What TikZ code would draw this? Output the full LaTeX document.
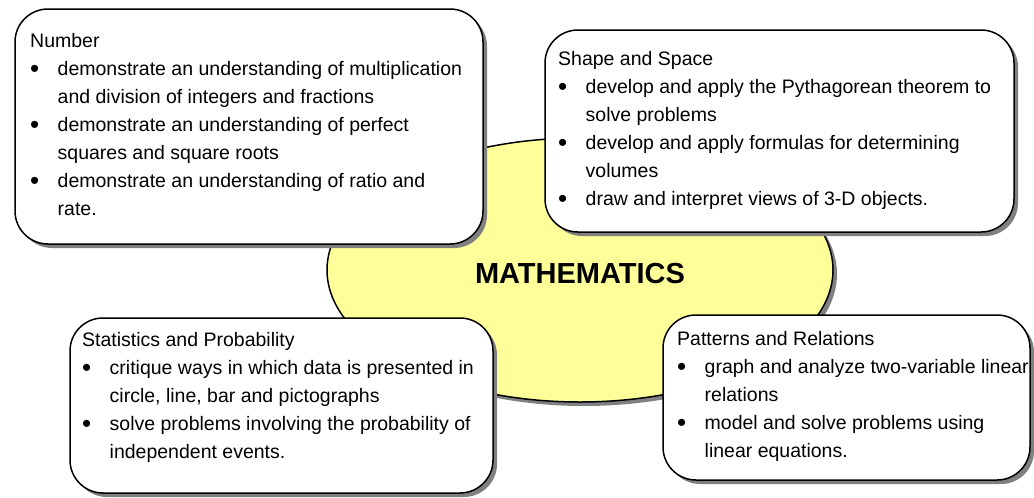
\documentclass[tikz,border=0pt]{standalone}
\usepackage{fontspec}
\setmainfont{Liberation Sans}
\definecolor{ellfill}{HTML}{FFFF99}
\definecolor{shadowgray}{HTML}{808080}
\newcommand{\myDot}{\raisebox{-2.2pt}{\fontsize{26}{26}\selectfont\textbullet}}
\newcommand{\myBull}[1]{\hbox{\makebox[27.5pt][l]{\myDot}#1}}
\newcommand{\myCont}[1]{\hbox{\hspace*{27.5pt}#1}}
\newcommand{\myTitle}[1]{\hbox{#1}}
\tikzset{
  boxline/.style={draw=black, line width=1.5pt, fill=white, rounded corners=33pt},
  boxshadow/.style={fill=shadowgray, rounded corners=33pt},
  boxtext/.style={anchor=base west, inner sep=0pt, font=\fontsize{19.5}{28}\selectfont},
  titletext/.style={anchor=base, inner sep=0pt, font=\fontsize{29}{34}\selectfont\bfseries}
}
\begin{document}
\begin{tikzpicture}[x=1pt, y=-1pt]
\useasboundingbox (0,0) rectangle (1034,498);
% central ellipse
\fill[shadowgray] (584,274) ellipse [x radius=253pt, y radius=132pt];
\draw[fill=ellfill, line width=1.5pt] (580,270) ellipse [x radius=253pt, y radius=132pt];
\node[titletext] (math) at (580,283) {MATHEMATICS};
% Number box
\fill[boxshadow] (19,13) rectangle (487,248);
\draw[boxline] (15,9) rectangle (483,244);
\node[boxtext] (number) at (30,47) {\vtop{\baselineskip=28pt
  \myTitle{Number}
  \myBull{demonstrate an understanding of multiplication}
  \myCont{and division of integers and fractions}
  \myBull{demonstrate an understanding of perfect}
  \myCont{squares and square roots}
  \myBull{demonstrate an understanding of ratio and}
  \myCont{rate.}}};
% Shape and Space box
\fill[boxshadow] (549,34) rectangle (1018,236);
\draw[boxline] (545,30) rectangle (1014,232);
\node[boxtext] (shape) at (558,65) {\vtop{\baselineskip=28pt
  \myTitle{Shape and Space}
  \myBull{develop and apply the Pythagorean theorem to}
  \myCont{solve problems}
  \myBull{develop and apply formulas for determining}
  \myCont{volumes}
  \myBull{draw and interpret views of 3-D objects.}}};
% Statistics box
\fill[boxshadow] (74,322) rectangle (497,497);
\draw[boxline] (70,318) rectangle (493,493);
\node[boxtext] (stats) at (82,346) {\vtop{\baselineskip=28pt
  \myTitle{Statistics and Probability}
  \myBull{critique ways in which data is presented in}
  \myCont{circle, line, bar and pictographs}
  \myBull{solve problems involving the probability of}
  \myCont{independent events.}}};
% Patterns box
\fill[boxshadow] (667,319) rectangle (1034,484);
\draw[boxline] (663,315) rectangle (1030,480);
\node[boxtext] (patterns) at (677,345) {\vtop{\baselineskip=28pt
  \myTitle{Patterns and Relations}
  \myBull{graph and analyze two-variable linear}
  \myCont{relations}
  \myBull{model and solve problems using}
  \myCont{linear equations.}}};
\end{tikzpicture}
\end{document}
